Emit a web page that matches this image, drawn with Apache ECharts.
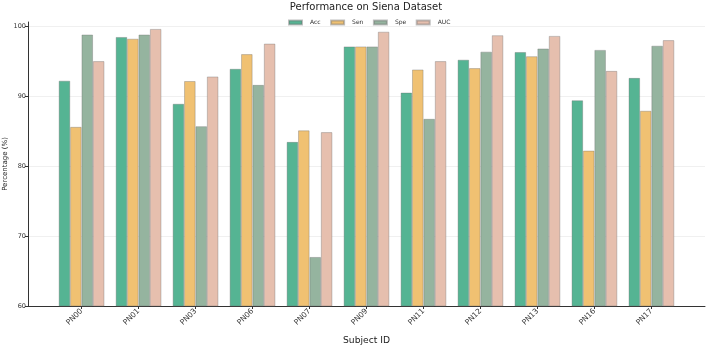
<!DOCTYPE html>
<html>
<head>
<meta charset="utf-8">
<script src="https://cdn.jsdelivr.net/npm/echarts@6/dist/echarts.min.js"></script>
<style>
  html, body { margin: 0; padding: 0; background: #fff; }
  #chart { width: 708px; height: 350px; }
</style>
</head>
<body>
<div id="chart"></div>
<script>
// data
var subjects = ['PN00', 'PN01', 'PN03', 'PN06', 'PN07', 'PN09', 'PN11', 'PN12', 'PN13', 'PN16', 'PN17'];
var acc = [92.2, 98.45, 88.9, 93.9, 83.45, 97.1, 90.5, 95.2, 96.3, 89.4, 92.6];
var sen = [85.6, 98.2, 92.15, 96.0, 85.1, 97.1, 93.8, 94.0, 95.7, 82.2, 87.9];
var spe = [98.8, 98.8, 85.7, 91.6, 67.0, 97.1, 86.75, 96.35, 96.8, 96.6, 97.2];
var auc = [95.0, 99.6, 92.8, 97.5, 84.85, 99.2, 95.0, 98.7, 98.6, 93.6, 98.0];
var yTicks = [60, 70, 80, 90, 100];

var font = 'DejaVu Sans';
var idx = subjects.map(function (s, i) { return i; });

function pairs(arr) {
    return arr.map(function (v, i) { return [i, v]; });
}

function barSeries(name, arr, color) {
    return {
        name: name,
        type: 'bar',
        data: pairs(arr),
        barWidth: 11.4,
        barGap: '0%',
        itemStyle: {
            color: color,
            borderColor: 'rgba(110,110,110,0.45)',
            borderWidth: 0.8
        },
        animation: false
    };
}

var chart = echarts.init(document.getElementById('chart'));
chart.setOption({
    textStyle: { fontFamily: font },
    title: {
        text: 'Performance on Siena Dataset',
        left: 366, textAlign: 'center',
        top: 2,
        padding: 0,
        textStyle: { fontFamily: font, fontSize: 10, fontWeight: 'normal', color: '#222' }
    },
    legend: {
        top: 19.5,
        left: 288,
        padding: 0,
        itemWidth: 13,
        itemHeight: 4,
        itemGap: 9.5,
        icon: 'rect',
        textStyle: { fontFamily: font, fontSize: 6, color: '#333', padding: [0, 0, 0, 3] },
        data: ['Acc', 'Sen', 'Spe', 'AUC']
    },
    grid: { left: 28, right: 3, top: 22, bottom: 44, containLabel: false, outerBoundsMode: 'none' },
    xAxis: {
        type: 'value',
        min: -0.94,
        max: 10.94,
        name: 'Subject ID',
        nameLocation: 'middle',
        nameGap: 30,
        nameMoveOverlap: false,
        nameTextStyle: { fontFamily: font, fontSize: 9.2, color: '#222' },
        axisLine: { show: true, onZero: false, lineStyle: { color: '#333', width: 1 } },
        axisTick: { show: true, length: 3, customValues: idx, lineStyle: { color: '#333' } },
        axisLabel: {
            customValues: idx,
            rotate: 45,
            margin: 4,
            fontSize: 7.5,
            color: '#333',
            fontFamily: font,
            formatter: function (v) { return subjects[Math.round(v)]; }
        },
        splitLine: { show: false }
    },
    yAxis: {
        type: 'value',
        min: 60,
        max: 100.6,
        interval: 10,
        name: 'Percentage (%)',
        nameLocation: 'middle',
        nameGap: 19,
        nameMoveOverlap: false,
        nameTextStyle: { fontFamily: font, fontSize: 7, color: '#222' },
        axisLine: { show: true, onZero: false, lineStyle: { color: '#333', width: 1 } },
        axisTick: { show: true, length: 3, customValues: yTicks, lineStyle: { color: '#333' } },
        axisLabel: {
            customValues: yTicks,
            margin: 2,
            fontSize: 6.5,
            color: '#333',
            fontFamily: font
        },
        splitLine: { show: true, lineStyle: { color: '#ececec', width: 0.8 } }
    },
    series: [
        barSeries('Acc', acc, '#55b493'),
        barSeries('Sen', sen, '#f0c172'),
        barSeries('Spe', spe, '#95b49f'),
        barSeries('AUC', auc, '#e6bfae')
    ]
});
</script>
</body>
</html>
